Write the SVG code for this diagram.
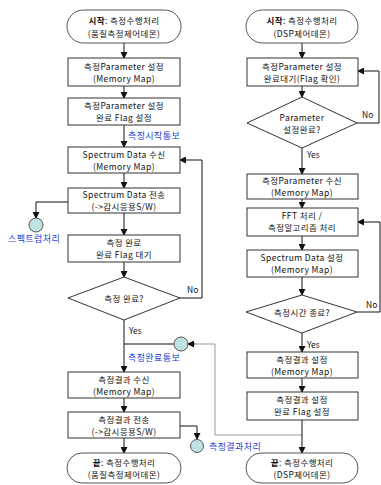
<svg xmlns="http://www.w3.org/2000/svg" width="381" height="485" viewBox="0 0 381 485">
<style>
text{font-family:"Noto Sans CJK KR","Noto Sans",sans-serif;font-size:8.5px;fill:#111;text-anchor:middle;letter-spacing:0.4px}
.b{font-weight:bold}
.lbl{fill:#1e3cd6;text-anchor:start;font-size:9px}
.yn{text-anchor:start;font-size:8.5px;letter-spacing:0}
.box{fill:#fff;stroke:#333;stroke-width:1}
.term{fill:#fff;stroke:#555;stroke-width:1}
.circ{fill:#bfe2e2;stroke:#555;stroke-width:1}
.ln{fill:none;stroke:#111;stroke-width:1}
.gl{fill:none;stroke:#999;stroke-width:1}
</style>
<defs>
<marker id="ah" markerWidth="7" markerHeight="7" refX="6" refY="3.5" orient="auto" markerUnits="userSpaceOnUse">
<path d="M0,0 L7,3.5 L0,7 Z" fill="#111"/>
</marker>
</defs>
<g id="connectors">
<line class="ln" x1="124" y1="43" x2="124" y2="58" marker-end="url(#ah)"/>
<line class="ln" x1="124" y1="86" x2="124" y2="98" marker-end="url(#ah)"/>
<line class="ln" x1="124" y1="125" x2="124" y2="147" marker-end="url(#ah)"/>
<line class="ln" x1="124" y1="173" x2="124" y2="188" marker-end="url(#ah)"/>
<line class="ln" x1="124" y1="213" x2="124" y2="235" marker-end="url(#ah)"/>
<polyline class="ln" points="68,202 36,202 36,218" marker-end="url(#ah)"/>
<line class="ln" x1="124" y1="262" x2="124" y2="277" marker-end="url(#ah)"/>
<polyline class="ln" points="180,298 202,298 202,160 180,160" marker-end="url(#ah)"/>
<line class="ln" x1="124" y1="320" x2="124" y2="372" marker-end="url(#ah)"/>
<line class="ln" x1="124" y1="344" x2="174" y2="344"/>
<polyline class="gl" points="302,435 215,435 215,344 194,344"/>
<line class="ln" x1="195" y1="344" x2="188" y2="344" marker-end="url(#ah)"/>
<line class="ln" x1="124" y1="398" x2="124" y2="412" marker-end="url(#ah)"/>
<polyline class="ln" points="180,426 197,426 197,439" marker-end="url(#ah)"/>
<line class="ln" x1="124" y1="438" x2="124" y2="453" marker-end="url(#ah)"/>
<line class="ln" x1="302" y1="43" x2="302" y2="58" marker-end="url(#ah)"/>
<line class="ln" x1="302" y1="86" x2="302" y2="97" marker-end="url(#ah)"/>
<polyline class="ln" points="357,123 379,123 379,71 358,71" marker-end="url(#ah)"/>
<line class="ln" x1="302" y1="148" x2="302" y2="174" marker-end="url(#ah)"/>
<line class="ln" x1="302" y1="199" x2="302" y2="208" marker-end="url(#ah)"/>
<line class="ln" x1="302" y1="236" x2="302" y2="250" marker-end="url(#ah)"/>
<line class="ln" x1="302" y1="277" x2="302" y2="295" marker-end="url(#ah)"/>
<polyline class="ln" points="357,312 380,312 380,222 358,222" marker-end="url(#ah)"/>
<line class="ln" x1="302" y1="333" x2="302" y2="352" marker-end="url(#ah)"/>
<line class="ln" x1="302" y1="378" x2="302" y2="392" marker-end="url(#ah)"/>
<line class="ln" x1="302" y1="420" x2="302" y2="453" marker-end="url(#ah)"/>
<text class="lbl" x="128" y="139">측정시작통보</text>
<text class="lbl" x="8" y="242">스펙트럼처리</text>
<text class="yn" x="187" y="293">No</text>
<text class="yn" x="129" y="334">Yes</text>
<text class="lbl" x="128" y="361">측정완료통보</text>
<text class="lbl" x="209" y="450">측정결과처리</text>
<text class="yn" x="362" y="118">No</text>
<text class="yn" x="307" y="158">Yes</text>
<text class="yn" x="366" y="308">No</text>
<text class="yn" x="307" y="348">Yes</text>
</g>
<g id="start-left">
<rect class="term" x="67" y="10" width="114" height="33" rx="16.5"/>
<text x="124" y="24"><tspan class="b">시작</tspan>: 측정수행처리</text>
<text x="124" y="37">(품질측정제어데몬)</text>
</g>
<g id="box-l1">
<rect class="box" x="68" y="58" width="112" height="28"/>
<text x="124" y="70">측정Parameter 설정</text>
<text x="124" y="82">(Memory Map)</text>
</g>
<g id="box-l2">
<rect class="box" x="68" y="98" width="112" height="27"/>
<text x="124" y="109">측정Parameter 설정</text>
<text x="124" y="121">완료 Flag 설정</text>
</g>
<g id="box-l3">
<rect class="box" x="68" y="147" width="112" height="26"/>
<text x="124" y="158">Spectrum Data 수신</text>
<text x="124" y="170">(Memory Map)</text>
</g>
<g id="box-l4">
<rect class="box" x="68" y="188" width="112" height="25"/>
<text x="124" y="198">Spectrum Data 전송</text>
<text x="124" y="210">(->감시응용S/W)</text>
</g>
<g id="circle-spectrum">
<circle class="circ" cx="36" cy="225" r="7"/>
</g>
<g id="box-l5">
<rect class="box" x="68" y="235" width="112" height="27"/>
<text x="124" y="246">측정 완료</text>
<text x="124" y="258">완료 Flag 대기</text>
</g>
<g id="dec-l">
<polygon class="box" points="124,277 180,298 124,320 68,298"/>
<text x="124" y="302">측정 완료?</text>
</g>
<g id="circle-done">
<circle class="circ" cx="181" cy="344" r="7"/>
</g>
<g id="box-l6">
<rect class="box" x="68" y="372" width="112" height="26"/>
<text x="124" y="383">측정결과 수신</text>
<text x="124" y="395">(Memory Map)</text>
</g>
<g id="box-l7">
<rect class="box" x="68" y="412" width="112" height="26"/>
<text x="124" y="423">측정결과 전송</text>
<text x="124" y="435">(->감시응용S/W)</text>
</g>
<g id="circle-result">
<circle class="circ" cx="197" cy="446" r="6.5"/>
</g>
<g id="end-left">
<rect class="term" x="67" y="453" width="114" height="30" rx="15"/>
<text x="124" y="466"><tspan class="b">끝</tspan>: 측정수행처리</text>
<text x="124" y="478">(품질측정제어데몬)</text>
</g>
<g id="start-right">
<rect class="term" x="246" y="10" width="112" height="33" rx="16.5"/>
<text x="302" y="24"><tspan class="b">시작</tspan>: 측정수행처리</text>
<text x="302" y="37">(DSP제어데몬)</text>
</g>
<g id="box-r1">
<rect class="box" x="247" y="58" width="111" height="28"/>
<text x="302" y="70">측정Parameter 설정</text>
<text x="302" y="82">완료대기(Flag 확인)</text>
</g>
<g id="dec-r1">
<polygon class="box" points="302,97 357,123 302,148 247,123"/>
<text x="302" y="121">Parameter</text>
<text x="302" y="133">설정완료?</text>
</g>
<g id="box-r2">
<rect class="box" x="247" y="174" width="111" height="25"/>
<text x="302" y="184">측정Parameter 수신</text>
<text x="302" y="196">(Memory Map)</text>
</g>
<g id="box-r3">
<rect class="box" x="247" y="208" width="111" height="28"/>
<text x="302" y="219">FFT 처리 /</text>
<text x="302" y="231">측정알고리즘 처리</text>
</g>
<g id="box-r4">
<rect class="box" x="247" y="250" width="111" height="27"/>
<text x="302" y="261">Spectrum Data 설정</text>
<text x="302" y="273">(Memory Map)</text>
</g>
<g id="dec-r2">
<polygon class="box" points="302,295 357,312 302,333 246,312"/>
<text x="302" y="316">측정시간 종료?</text>
</g>
<g id="box-r5">
<rect class="box" x="247" y="352" width="111" height="26"/>
<text x="302" y="363">측정결과 설정</text>
<text x="302" y="375">(Memory Map)</text>
</g>
<g id="box-r6">
<rect class="box" x="247" y="392" width="111" height="28"/>
<text x="302" y="403">측정결과 설정</text>
<text x="302" y="415">완료 Flag 설정</text>
</g>
<g id="end-right">
<rect class="term" x="246" y="453" width="112" height="30" rx="15"/>
<text x="302" y="466"><tspan class="b">끝</tspan>: 측정수행처리</text>
<text x="302" y="478">(DSP제어데몬)</text>
</g>
</svg>
